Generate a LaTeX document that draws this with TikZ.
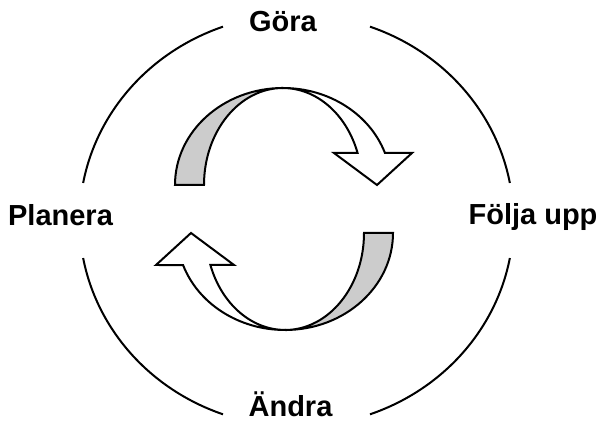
\documentclass[tikz,border=0pt]{standalone}
\usepackage{fontspec}
\setmainfont{Liberation Sans}
\definecolor{band}{RGB}{204,204,204}
\tikzset{
  ring/.style={line width=2pt},
  label/.style={font=\fontsize{29}{29}\selectfont\bfseries, inner sep=0pt, anchor=base},
  backside/.style={line width=2pt, fill=band, line join=miter},
  frontside/.style={line width=2pt, fill=white, line join=miter}
}
\begin{document}
\begin{tikzpicture}[x=1pt,y=1pt]
\useasboundingbox (0,0) rectangle (600,422);
\coordinate (c) at (296.5,201.5);

% outer cycle, broken at the four labels
\foreach \a/\b in {10.5/70.2, 109.8/169.5, 190.5/250.2, 289.8/349.5}
  \draw[ring] ([shift={(\a:217pt and 206pt)}]c) arc[start angle=\a, end angle=\b, x radius=217, y radius=206];

\node[label] (gora)    at (283,390) {Göra};
\node[label] (planera) at (60.5,196) {Planera};
\node[label] (folja)   at (533,197) {Följa upp};
\node[label] (andra)   at (290.5,5) {Ändra};

% upper twisted arrow
\newcommand{\twistarrow}{%
  \draw[backside] (175,237) arc[start angle=180, end angle=90, x radius=108, y radius=97]
        arc[start angle=90, end angle=180, x radius=79, y radius=97] -- cycle;
  \draw[frontside] (283,334) arc[start angle=90, end angle=19.3, x radius=108, y radius=97]
        -- (412,269) -- (377,237) -- (334,269) -- (357.6,269)
        arc[start angle=19.3, end angle=90, x radius=79, y radius=97] -- cycle;
}
\twistarrow
% lower arrow: the same shape turned half way round
\begin{scope}[rotate around={180:(284,213)}]
  \twistarrow
\end{scope}
\end{tikzpicture}
\end{document}
